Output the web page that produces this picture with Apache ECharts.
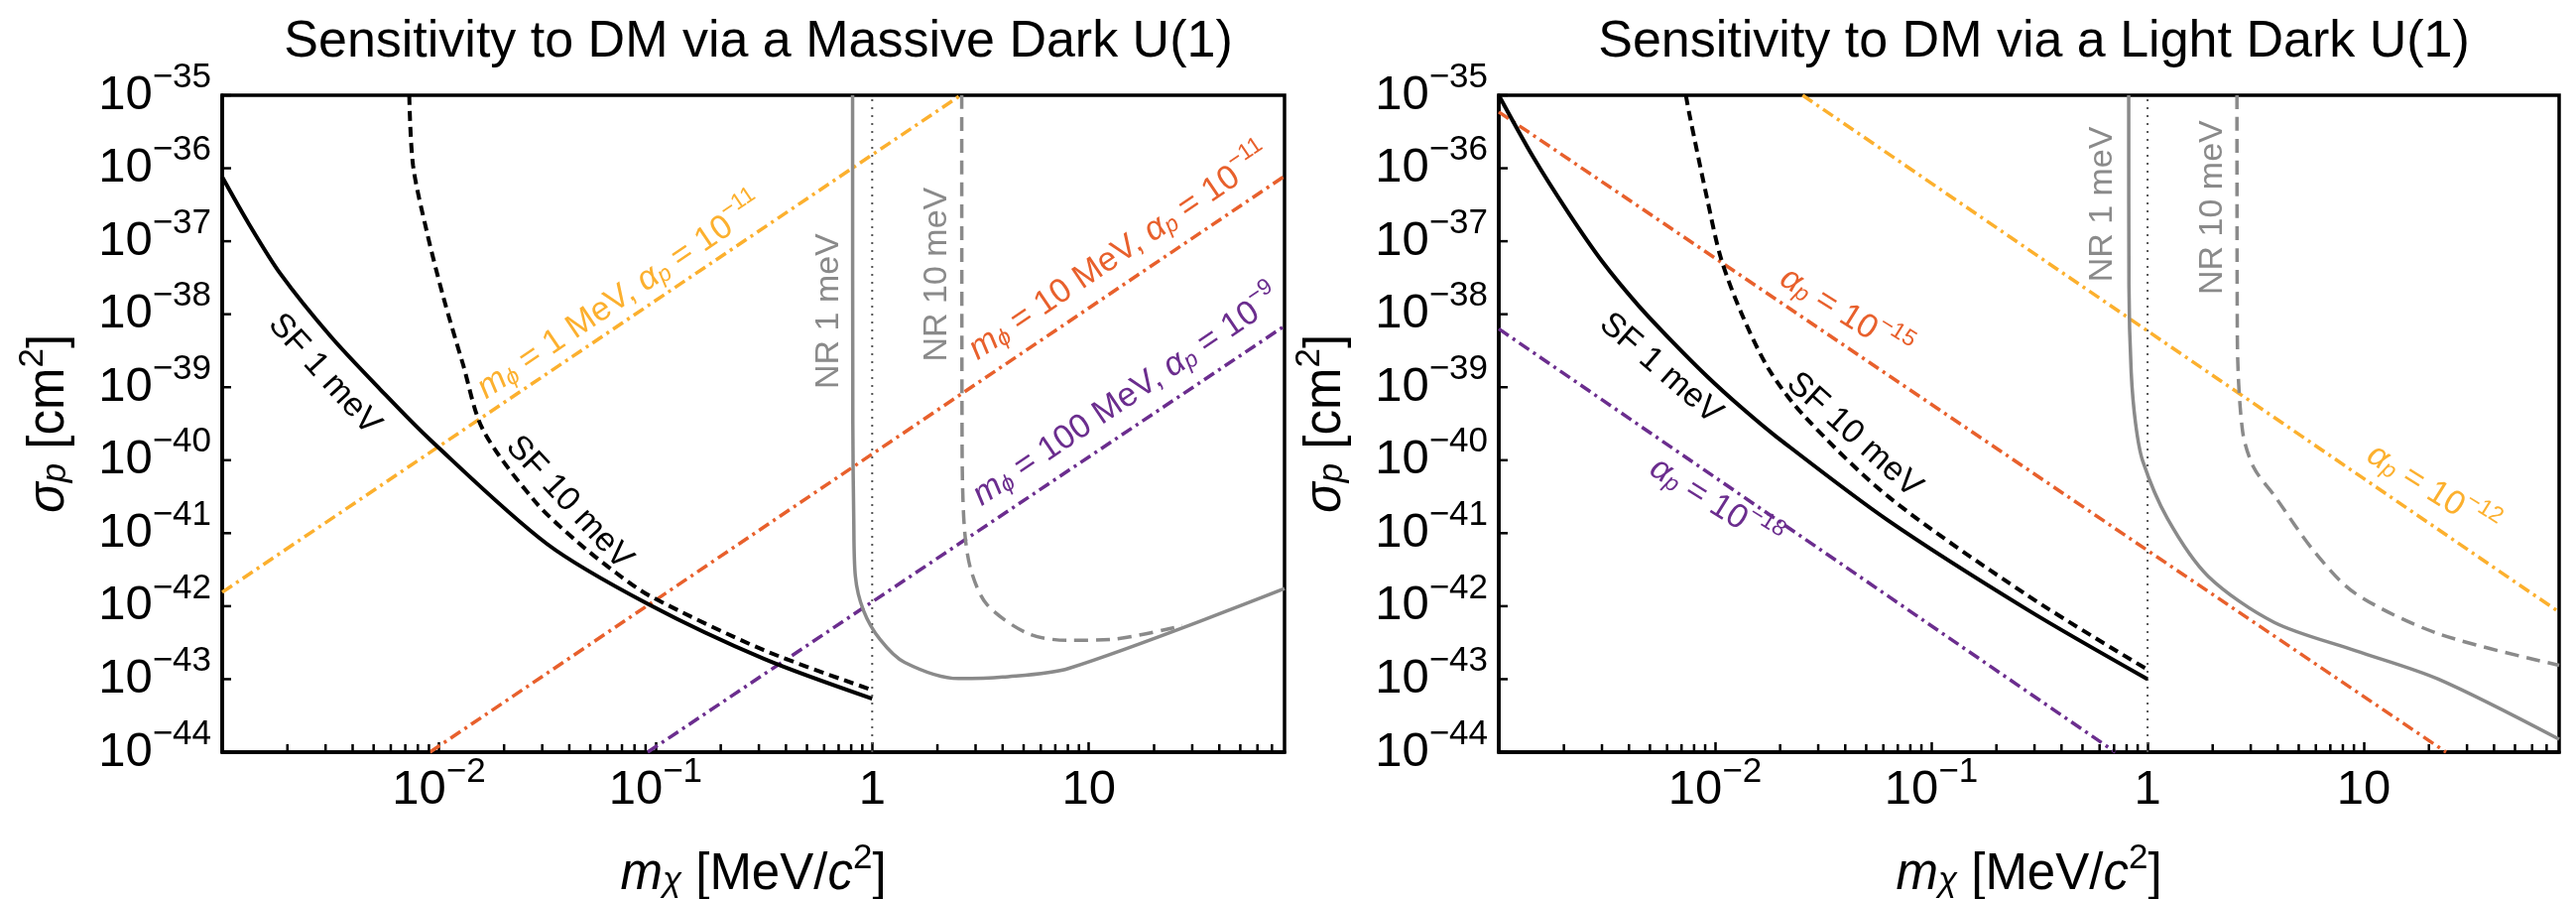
<!DOCTYPE html>
<html>
<head>
<meta charset="utf-8">
<title>Sensitivity to DM via a dark U(1)</title>
<script src="https://cdn.jsdelivr.net/npm/echarts/dist/echarts.min.js"></script>
<style>
  html, body { margin: 0; padding: 0; background: #fff; }
  #chart { width: 2597px; height: 906px; }
</style>
</head>
<body>
<div id="chart"></div>
<script>
// m_X in MeV/c^2, sigma_p in cm^2
const xMin = 1e-3;
const xMax = 80;
const yMin = 1e-44;
const yMax = 1e-35;
const xTickValues = [0.01, 0.1, 1, 10];
const xMinorTicks = [0.002, 0.003, 0.004, 0.005, 0.006, 0.007, 0.008, 0.009,
  0.02, 0.03, 0.04, 0.05, 0.06, 0.07, 0.08, 0.09,
  0.2, 0.3, 0.4, 0.5, 0.6, 0.7, 0.8, 0.9,
  2, 3, 4, 5, 6, 7, 8, 9,
  20, 30, 40, 50, 60, 70];
const yTickValues = [1e-44, 1e-43, 1e-42, 1e-41, 1e-40, 1e-39, 1e-38, 1e-37, 1e-36, 1e-35];
const threshold = [[1, 1e-44], [1, 1e-35]];

// left panel: massive dark U(1)
const massiveSF1 = [[0.001, 7.6e-37], [0.00132, 1.78e-37], [0.00186, 3.55e-38], [0.00316, 5.0e-39],
  [0.00537, 9.3e-40], [0.00912, 1.9e-40], [0.0316, 7.1e-42], [0.0933, 1.05e-42], [0.316, 1.9e-43], [1, 5.4e-44]];
const massiveSF10 = [[0.0073, 1e-35], [0.0076, 1.1e-36], [0.0088, 1.35e-37], [0.0105, 1.7e-38], [0.0129, 2.1e-39],
  [0.016, 2.6e-40], [0.0277, 2.75e-41], [0.0429, 7.9e-42], [0.0664, 2.8e-42], [0.0942, 1.38e-42], [0.316, 2.5e-43], [1, 7.1e-44]];
const massiveNR1 = [[0.812, 1e-35], [0.814, 3.2e-40], [0.822, 1.6e-41], [0.836, 2.6e-42], [0.912, 8.7e-43],
  [1.087, 3.5e-43], [1.41, 1.7e-43], [2.5, 1.02e-43], [4.0, 1.07e-43], [8.1, 1.41e-43], [80, 1.74e-42]];
const massiveNR10 = [[2.59, 1e-35], [2.6, 1.6e-40], [2.66, 1.26e-41], [2.85, 3.2e-42], [3.39, 1.05e-42],
  [5.25, 4.2e-43], [8.1, 3.4e-43], [12.6, 3.5e-43], [27, 5.4e-43]];
const massivePhi1 = [[0.001, 1.55e-42], [2.56, 1e-35]];
const massivePhi10 = [[0.0091, 1e-44], [80, 7.8e-37]];
const massivePhi100 = [[0.092, 1e-44], [80, 6.9e-39]];

// right panel: light dark U(1)
const lightSF1 = [[0.001, 1e-35], [0.001445, 1.41e-36], [0.00209, 2.5e-37], [0.00302, 5.2e-38], [0.00439, 1.35e-38],
  [0.00635, 4.2e-39], [0.00918, 1.41e-39], [0.0133, 5.2e-40], [0.0192, 2.1e-40], [0.063, 1.5e-41], [0.279, 8.9e-43], [1, 1e-43]];
const lightSF10 = [[0.00733, 1e-35], [0.00764, 5.2e-36], [0.00918, 3.9e-37], [0.01064, 5.9e-38], [0.0133, 1e-38],
  [0.01786, 1.7e-39], [0.0259, 4e-40], [0.063, 3.2e-41], [0.279, 1.4e-42], [1, 1.35e-43]];
const lightNR1 = [[0.818, 1e-35], [0.82, 2.5e-38], [0.84, 1.6e-39], [0.88, 3.2e-40], [0.949, 9.8e-41], [1.236, 1.58e-41],
  [1.905, 2.57e-42], [3.85, 6.0e-43], [9.18, 2.45e-43], [22.1, 1e-43], [80, 1.5e-44]];
const lightNR10 = [[2.59, 1e-35], [2.6, 5e-39], [2.75, 2.5e-40], [3.1, 7.9e-41], [3.85, 3.3e-41], [5.96, 5.4e-42],
  [9.18, 1.48e-42], [22.1, 4.2e-43], [80, 1.55e-43]];
const lightAlpha12 = [[0.0254, 1e-35], [80, 8.3e-43]];
const lightAlpha15 = [[0.001, 5.9e-36], [24, 1e-44]];
const lightAlpha18 = [[0.001, 6.3e-39], [0.71, 1e-44]];

const FONT = "'Liberation Sans', Arial, Helvetica, sans-serif";
const BLACK = '#000';
const YELLOW = '#fcb02e';
const ORANGE = '#e8602c';
const PURPLE = '#6b2d8e';
const GRAY = '#8a8a8a';
const DASHDOT = [12, 5, 3, 5];

// curve labels, anchored in data coordinates
const massiveNotes = [
  {at: [2.96e-3, 1.5e-39], text: '{n|SF 1 meV}', angle: -48, color: BLACK},
  {at: [0.04, 2.6e-41], text: '{n|SF 10 meV}', angle: -47, color: BLACK},
  {at: [0.069, 1.7e-38], text: '{i|m}{sub|ϕ}{n| = 1 MeV, }{i|α}{sub|p}{n| = 10}{sup|−11}', angle: 34, color: YELLOW},
  {at: [13.9, 6.9e-38], text: '{i|m}{sub|ϕ}{n| = 10 MeV, }{i|α}{sub|p}{n| = 10}{sup|−11}', angle: 34, color: ORANGE},
  {at: [15.0, 7.4e-40], text: '{i|m}{sub|ϕ}{n| = 100 MeV, }{i|α}{sub|p}{n| = 10}{sup|−9}', angle: 34, color: PURPLE},
  {at: [0.628, 1.1e-38], text: '{n|NR 1 meV}', angle: 90, color: GRAY},
  {at: [2.0, 3.5e-38], text: '{n|NR 10 meV}', angle: 90, color: GRAY}
];
const lightNotes = [
  {at: [5.6e-3, 1.8e-39], text: '{n|SF 1 meV}', angle: -41, color: BLACK},
  {at: [0.044, 2.2e-40], text: '{n|SF 10 meV}', angle: -42, color: BLACK},
  {at: [0.0399, 1.0e-38], text: '{i|α}{sub|p}{n| = 10}{sup|−15}', angle: -32, color: ORANGE},
  {at: [0.01, 2.5e-41], text: '{i|α}{sub|p}{n| = 10}{sup|−18}', angle: -32, color: PURPLE},
  {at: [20.7, 3.8e-41], text: '{i|α}{sub|p}{n| = 10}{sup|−12}', angle: -32, color: YELLOW},
  {at: [0.622, 3.2e-37], text: '{n|NR 1 meV}', angle: 90, color: GRAY},
  {at: [1.99, 2.9e-37], text: '{n|NR 10 meV}', angle: 90, color: GRAY}
];

const tickRich = {
  b: {fontFamily: FONT, fontSize: 49, lineHeight: 62, color: BLACK},
  s: {fontFamily: FONT, fontSize: 35, height: 26, verticalAlign: 'top', color: BLACK}
};
// same look for labels drawn by hand (zrender uses fill)
const tickRichZr = {
  b: {fontFamily: FONT, fontSize: 49, lineHeight: 62, fill: BLACK},
  s: {fontFamily: FONT, fontSize: 35, height: 26, verticalAlign: 'top', fill: BLACK}
};
const nameRich = {
  n: {fontFamily: FONT, fontSize: 51, lineHeight: 70, color: BLACK},
  i: {fontFamily: FONT, fontSize: 51, lineHeight: 70, fontStyle: 'italic', color: BLACK},
  sub: {fontFamily: FONT, fontSize: 35, height: 58, verticalAlign: 'bottom', fontStyle: 'italic', color: BLACK},
  sup: {fontFamily: FONT, fontSize: 35, height: 36, verticalAlign: 'top', color: BLACK}
};

function decade(v) {
  const e = Math.round(Math.log10(v));
  return Math.abs(v / Math.pow(10, e) - 1) < 1e-6 ? e : null;
}

function xTickLabel(v) {
  const e = decade(v);
  if (e === null || e < -2) return '';
  if (e >= 0) return '{b|' + Math.pow(10, e) + '}';
  return '{b|10}{s|−' + (-e) + '}';
}

function yTickLabel(v) {
  const e = decade(v);
  if (e === null) return '';
  return '{b|10}{s|−' + (-e) + '}';
}

function noteRich(color) {
  const base = {fontFamily: FONT, fontSize: 34, lineHeight: 68, fill: color};
  return {
    n: base,
    i: Object.assign({}, base, {fontStyle: 'italic'}),
    sub: {fontFamily: FONT, fontSize: 23, height: 56, verticalAlign: 'bottom', fontStyle: 'italic', fill: color},
    sup: {fontFamily: FONT, fontSize: 23, height: 42, verticalAlign: 'top', fill: color}
  };
}

function makeGrid(left, width) {
  return {
    left: left, top: 96, width: width, height: 662,
    show: true, borderColor: BLACK, borderWidth: 3.5,
    containLabel: false, outerBoundsMode: 'none'
  };
}

function makeXAxis(idx) {
  return {
    type: 'log', logBase: 10, gridIndex: idx, min: xMin, max: xMax,
    axisLine: {show: true, lineStyle: {color: BLACK, width: 3.5}},
    axisTick: {show: true, inside: true, length: 10, customValues: xTickValues, lineStyle: {color: BLACK, width: 2.5}},
    minorTick: {show: false},
    splitLine: {show: false},
    axisLabel: {formatter: xTickLabel, margin: 7, rich: tickRich, customValues: xTickValues,
      hideOverlap: false, showMinLabel: true, showMaxLabel: true},
    name: '{i|m}{sub|χ}{n| [MeV/}{i|c}{sup|2}{n|]}',
    nameLocation: 'middle', nameGap: 89, nameMoveOverlap: false,
    nameTextStyle: {rich: nameRich}
  };
}

function makeYAxis(idx) {
  return {
    type: 'log', logBase: 10, gridIndex: idx, min: yMin, max: yMax,
    axisLine: {show: true, lineStyle: {color: BLACK, width: 3.5}},
    axisTick: {show: false},
    minorTick: {show: false},
    splitLine: {show: false},
    axisLabel: {show: false},
    name: '{i|σ}{sub|p}{n| [cm}{sup|2}{n|]}',
    nameLocation: 'middle', nameRotate: 90, nameGap: 139, nameMoveOverlap: false,
    nameTextStyle: {rich: nameRich}
  };
}

function curve(data, idx, color, width, type, smooth) {
  return {
    type: 'line', xAxisIndex: idx, yAxisIndex: idx, data: data,
    symbol: 'none', showSymbol: false, silent: true,
    smooth: smooth || false,
    lineStyle: {color: color, width: width, type: type}
  };
}

function minorTicks(idx) {
  return {
    type: 'custom', xAxisIndex: idx, yAxisIndex: idx, silent: true, z: 5,
    data: xMinorTicks.map(v => [v, yMin]),
    renderItem: function (params, api) {
      const p = api.coord([api.value(0), api.value(1)]);
      return {
        type: 'line',
        shape: {x1: p[0], y1: p[1], x2: p[0], y2: p[1] - 8},
        style: {stroke: BLACK, lineWidth: 2.5}
      };
    }
  };
}

// decade ticks and labels of the sigma axis
function yTicks(idx) {
  return {
    type: 'custom', xAxisIndex: idx, yAxisIndex: idx, silent: true, z: 5,
    data: yTickValues.map(v => [xMin, v]),
    renderItem: function (params, api) {
      const v = yTickValues[params.dataIndex];
      const p = api.coord([api.value(0), api.value(1)]);
      return {
        type: 'group',
        children: [
          {type: 'line', shape: {x1: p[0], y1: p[1], x2: p[0] + 9, y2: p[1]},
            style: {stroke: BLACK, lineWidth: 2.5}},
          {type: 'text', x: p[0] - 11, y: p[1],
            style: {text: yTickLabel(v), rich: tickRichZr, align: 'right', verticalAlign: 'middle'}}
        ]
      };
    }
  };
}

function notes(list, idx) {
  return {
    type: 'custom', xAxisIndex: idx, yAxisIndex: idx, silent: true, z: 6,
    data: list.map(n => n.at),
    renderItem: function (params, api) {
      const note = list[params.dataIndex];
      const p = api.coord([api.value(0), api.value(1)]);
      return {
        type: 'text', x: p[0], y: p[1],
        rotation: note.angle * Math.PI / 180,
        style: {
          text: note.text, rich: noteRich(note.color), fill: note.color,
          fontFamily: FONT, fontSize: 34, align: 'center', verticalAlign: 'middle'
        }
      };
    }
  };
}

const chart = echarts.init(document.getElementById('chart'));
chart.setOption({
  animation: false,
  backgroundColor: '#fff',
  title: [
    {text: 'Sensitivity to DM via a Massive Dark U(1)', left: 759.5, top: 12, textAlign: 'center',
      textStyle: {fontFamily: FONT, fontSize: 52, fontWeight: 'normal', color: BLACK}},
    {text: 'Sensitivity to DM via a Light Dark U(1)', left: 2045.5, top: 12, textAlign: 'center',
      textStyle: {fontFamily: FONT, fontSize: 52, fontWeight: 'normal', color: BLACK}}
  ],
  grid: [makeGrid(224, 1071), makeGrid(1511, 1069)],
  xAxis: [makeXAxis(0), makeXAxis(1)],
  yAxis: [makeYAxis(0), makeYAxis(1)],
  series: [
    curve(threshold, 0, '#555', 2, [2, 6]),
    curve(massivePhi1, 0, YELLOW, 3.5, DASHDOT),
    curve(massivePhi10, 0, ORANGE, 3.5, DASHDOT),
    curve(massivePhi100, 0, PURPLE, 3.5, DASHDOT),
    curve(massiveNR1, 0, GRAY, 3.5, 'solid', 0.3),
    curve(massiveNR10, 0, GRAY, 3.5, [14, 8], 0.3),
    curve(massiveSF1, 0, BLACK, 4, 'solid', 0.3),
    curve(massiveSF10, 0, BLACK, 4, [10, 6], 0.3),
    minorTicks(0),
    yTicks(0),
    notes(massiveNotes, 0),

    curve(threshold, 1, '#555', 2, [2, 6]),
    curve(lightAlpha12, 1, YELLOW, 3.5, DASHDOT),
    curve(lightAlpha15, 1, ORANGE, 3.5, DASHDOT),
    curve(lightAlpha18, 1, PURPLE, 3.5, DASHDOT),
    curve(lightNR1, 1, GRAY, 3.5, 'solid', 0.3),
    curve(lightNR10, 1, GRAY, 3.5, [14, 8], 0.3),
    curve(lightSF1, 1, BLACK, 4, 'solid', 0.3),
    curve(lightSF10, 1, BLACK, 4, [10, 6], 0.3),
    minorTicks(1),
    yTicks(1),
    notes(lightNotes, 1)
  ]
});
</script>
</body>
</html>
